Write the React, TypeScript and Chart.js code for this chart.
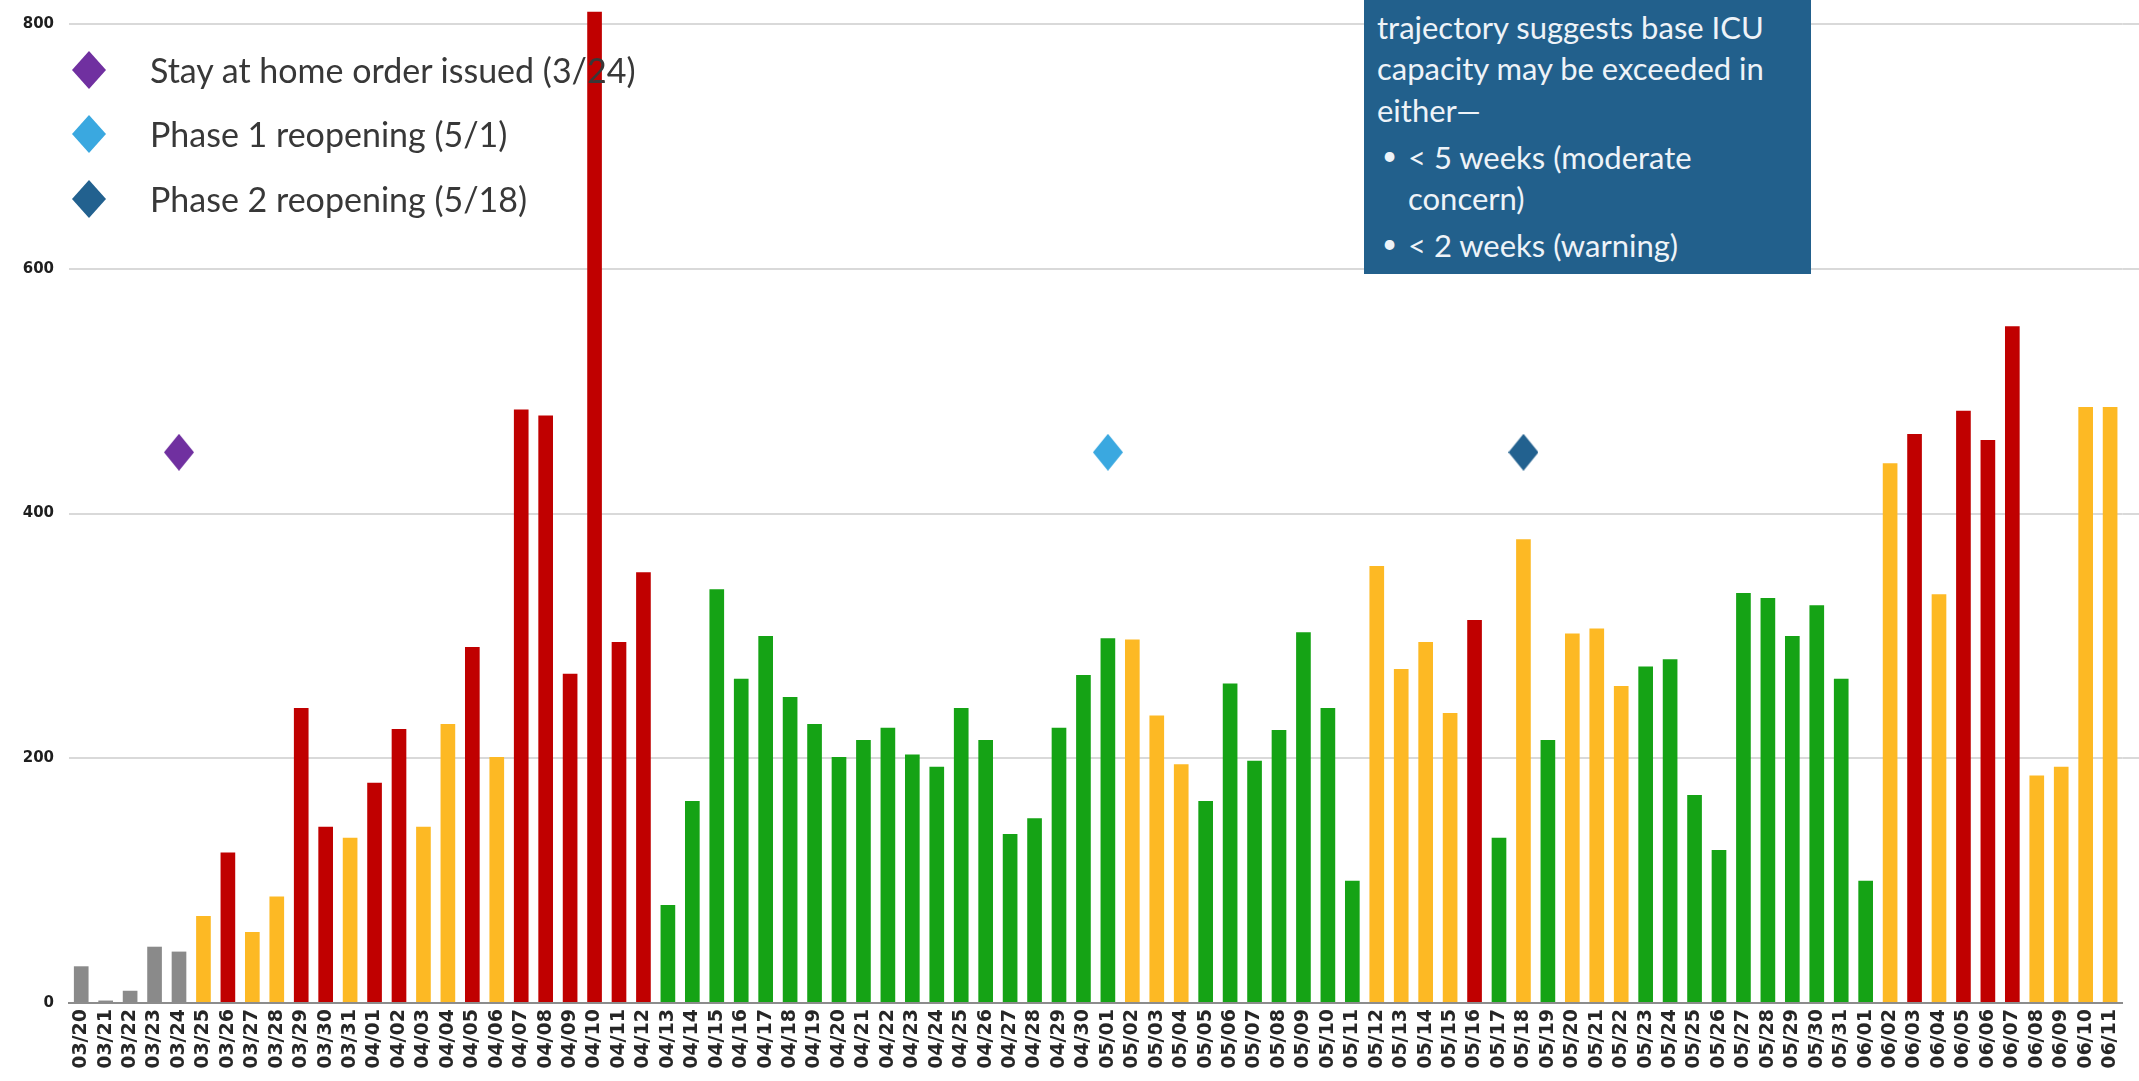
import React, { useEffect, useRef } from "react";
import { Chart, registerables } from "chart.js";

Chart.register(...registerables);

const dates = [
  "03/20","03/21","03/22","03/23","03/24","03/25","03/26","03/27","03/28","03/29","03/30","03/31",
  "04/01","04/02","04/03","04/04","04/05","04/06","04/07","04/08","04/09","04/10","04/11","04/12","04/13","04/14","04/15",
  "04/16","04/17","04/18","04/19","04/20","04/21","04/22","04/23","04/24","04/25","04/26","04/27","04/28","04/29","04/30",
  "05/01","05/02","05/03","05/04","05/05","05/06","05/07","05/08","05/09","05/10","05/11","05/12","05/13","05/14","05/15",
  "05/16","05/17","05/18","05/19","05/20","05/21","05/22","05/23","05/24","05/25","05/26","05/27","05/28","05/29","05/30","05/31",
  "06/01","06/02","06/03","06/04","06/05","06/06","06/07","06/08","06/09","06/10","06/11",
];

const values = [
  30, 2, 10, 46, 42, 71, 123, 58, 87, 241, 144, 135,
  180, 224, 144, 228, 291, 201, 485, 480, 269, 810, 295, 352, 80, 165, 338,
  265, 300, 250, 228, 201, 215, 225, 203, 193, 241, 215, 138, 151, 225, 268,
  298, 297, 235, 195, 165, 261, 198, 223, 303, 241, 100, 357, 273, 295, 237,
  313, 135, 379, 215, 302, 306, 259, 275, 281, 170, 125, 335, 331, 300, 325, 265,
  100, 441, 465, 334, 484, 460, 553, 186, 193, 487, 487,
];

// status per day: n = no data (gray), y = yellow, r = red, g = green
const status = [
  "n","n","n","n","n","y","r","y","y","r","r","y",
  "r","r","y","y","r","y","r","r","r","r","r","r","g","g","g",
  "g","g","g","g","g","g","g","g","g","g","g","g","g","g","g",
  "g","y","y","y","g","g","g","g","g","g","g","y","y","y","y",
  "r","g","y","g","y","y","y","g","g","g","g","g","g","g","g","g",
  "g","y","r","y","r","r","r","y","y","y","y",
];

const statusColors: Record<string, string> = {
  n: "#8a8a8a",
  y: "#fdb924",
  r: "#c00000",
  g: "#15a315",
};

const eventDates = ["03/24", "05/01", "05/18"];
const eventLabels = [
  "Stay at home order issued (3/24)",
  "Phase 1 reopening (5/1)",
  "Phase 2 reopening (5/18)",
];
const eventColors = ["#7030a0", "#3aa8e0", "#22618f"];
const eventLevel = 450;

const yTicks = [0, 200, 400, 600, 800];

const boxLines = [
  { text: "trajectory suggests base ICU", bullet: false, y: 27 },
  { text: "capacity may be exceeded in", bullet: false, y: 68 },
  { text: "either\u2014", bullet: false, y: 110 },
  { text: "< 5 weeks (moderate", bullet: true, y: 157 },
  { text: "concern)", bullet: false, indent: true, y: 198 },
  { text: "< 2 weeks (warning)", bullet: true, y: 245 },
];

function makeDiamond(color: string, w: number, h: number) {
  const c = document.createElement("canvas");
  c.width = w;
  c.height = h;
  const ctx = c.getContext("2d")!;
  ctx.fillStyle = color;
  ctx.beginPath();
  ctx.moveTo(w / 2, 0);
  ctx.lineTo(w, h / 2);
  ctx.lineTo(w / 2, h);
  ctx.lineTo(0, h / 2);
  ctx.closePath();
  ctx.fill();
  return c;
}

function Diamond({ color, w, h }: { color: string; w: number; h: number }) {
  return (
    <svg width={w} height={h} style={{ display: "block" }}>
      <polygon points={`${w / 2},0 ${w},${h / 2} ${w / 2},${h} 0,${h / 2}`} fill={color} />
    </svg>
  );
}

const gridExtend = {
  id: "gridExtend",
  beforeDatasetsDraw(chart: any) {
    const { ctx, chartArea, scales } = chart;
    const y = scales.y;
    ctx.save();
    ctx.strokeStyle = "#d9d9d9";
    ctx.lineWidth = 2;
    y.ticks.forEach((t: any) => {
      if (t.value === 0) return;
      const py = Math.round(y.getPixelForValue(t.value));
      ctx.beginPath();
      ctx.moveTo(chartArea.right, py);
      ctx.lineTo(chart.width, py);
      ctx.stroke();
    });
    ctx.restore();
  },
};

export default function App() {
  const ref = useRef<HTMLCanvasElement | null>(null);

  useEffect(() => {
    if (!ref.current) return;
    const markerData = dates.map((d) => (eventDates.includes(d) ? eventLevel : null));
    const markerStyles = dates.map((d) => {
      const i = eventDates.indexOf(d);
      return i >= 0 ? makeDiamond(eventColors[i], 30, 37) : "circle";
    });
    const chart = new Chart(ref.current, {
      type: "bar",
      data: {
        labels: dates,
        datasets: [
          {
            type: "line",
            label: "events",
            data: markerData,
            showLine: false,
            pointStyle: markerStyles as any,
            pointRadius: 15,
            order: 0,
            clip: false,
          } as any,
          {
            type: "bar",
            label: "ICU",
            data: values,
            backgroundColor: status.map((s) => statusColors[s]),
            barPercentage: 0.6,
            categoryPercentage: 1,
            order: 1,
            clip: false,
          } as any,
        ],
      },
      plugins: [gridExtend],
      options: {
        animation: false,
        responsive: true,
        maintainAspectRatio: false,
        layout: { padding: { top: 19, right: 14, left: 0, bottom: 0 } },
        plugins: { legend: { display: false }, tooltip: { enabled: false } },
        scales: {
          x: {
            grid: { display: false, drawTicks: false },
            border: { display: true, color: "#8c8c8c", width: 2 },
            ticks: {
              autoSkip: false,
              minRotation: 90,
              maxRotation: 90,
              padding: 6,
              color: "#262626",
              font: { family: "DejaVu Sans", size: 19, weight: "bold" },
            },
            afterFit: (s: any) => {
              s.height = 78;
            },
          },
          y: {
            min: 0,
            max: 800,
            afterBuildTicks: (s: any) => {
              s.ticks = yTicks.map((v) => ({ value: v }));
            },
            grid: { color: "#d9d9d9", lineWidth: 2, drawTicks: false },
            border: { display: false },
            ticks: {
              padding: 15,
              color: "#1e1e1e",
              font: { family: "DejaVu Sans", size: 15, weight: "bold" },
            },
            afterFit: (s: any) => {
              s.width = 69;
            },
          },
        },
      },
    });
    return () => chart.destroy();
  }, []);

  return (
    <div
      style={{
        position: "fixed",
        left: 0,
        top: 0,
        width: 2139,
        height: 1081,
        background: "#ffffff",
        overflow: "hidden",
      }}
    >
      <canvas ref={ref} />
      {eventLabels.map((t, i) => (
        <div key={t}>
          <div style={{ position: "absolute", left: 72, top: [70, 134, 199][i] - 19 }}>
            <Diamond color={eventColors[i]} w={34} h={38} />
          </div>
          <div
            style={{
              position: "absolute",
              left: 150,
              top: [70, 134, 199][i] - 24,
              lineHeight: "48px",
              fontFamily: "Lato, 'Open Sans', sans-serif",
              fontSize: 34,
              color: "#383838",
              whiteSpace: "nowrap",
            }}
          >
            {t}
          </div>
        </div>
      ))}
      <div
        style={{
          position: "absolute",
          left: 1364,
          top: 0,
          width: 447,
          height: 274,
          background: "#22608c",
        }}
      >
        {boxLines.map((l) => (
          <div
            key={l.text}
            style={{
              position: "absolute",
              left: l.bullet || l.indent ? 44 : 13,
              top: l.y - 21,
              lineHeight: "42px",
              fontFamily: "Lato, 'Open Sans', sans-serif",
              fontSize: 31,
              color: "#eef3f8",
              whiteSpace: "nowrap",
            }}
          >
            {l.bullet ? (
              <span style={{ position: "absolute", left: -26, top: -2, fontSize: 26 }}>{"\u2022"}</span>
            ) : null}
            {l.text}
          </div>
        ))}
      </div>
    </div>
  );
}
